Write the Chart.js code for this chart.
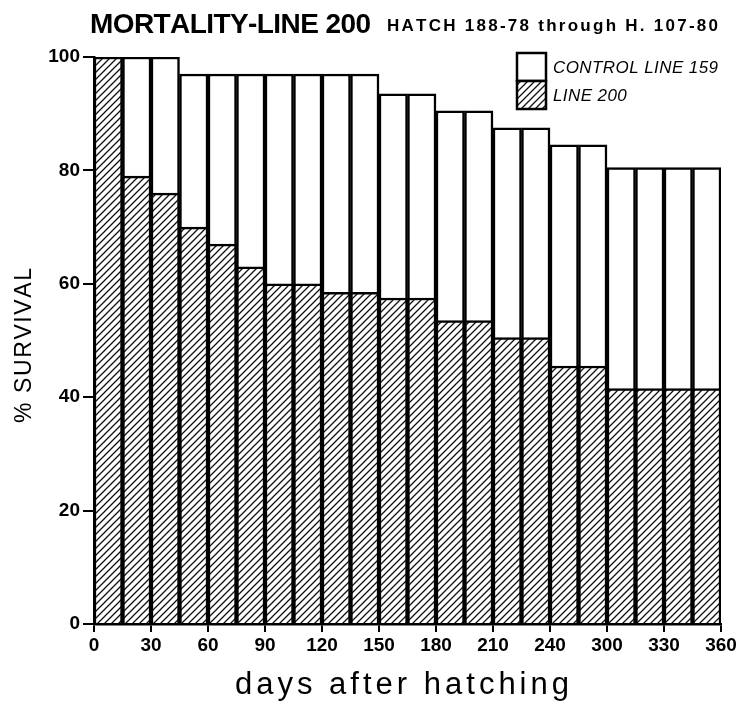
<!DOCTYPE html>
<html>
<head>
<meta charset="utf-8">
<script src="https://cdn.jsdelivr.net/npm/chart.js@4.4.1/dist/chart.umd.min.js"></script>
<style>
  html, body { margin: 0; background: #fff; }
  #wrap { width: 743px; height: 702px; }
</style>
</head>
<body>
<div id="wrap"><canvas id="chart" width="743" height="702"></canvas></div>
<script>
// --- data: 22 half-month intervals ---
const intervals = ['0-15','15-30','30-45','45-60','60-75','75-90','90-105','105-120','120-135','135-150',
                   '150-165','165-180','180-195','195-210','210-225','225-240','240-255','255-270',
                   '270-285','285-300','300-315','315-330'];
const control159 = [100, 100, 100, 97, 97, 97, 97, 97, 97, 97, 93.5, 93.5, 90.5, 90.5, 87.5, 87.5, 84.5, 84.5, 80.5, 80.5, 80.5, 80.5];
const line200    = [100, 79, 76, 70, 67, 63, 60, 60, 58.5, 58.5, 57.5, 57.5, 53.5, 53.5, 50.5, 50.5, 45.5, 45.5, 41.5, 41.5, 41.5, 41.5];
// tick labels as printed on the original axis (270 is missing there)
const dayTicks = ['0','30','60','90','120','150','180','210','240','300','330','360'];

const titleText = 'MORTALITY-LINE 200';
const subtitleText = 'HATCH 188-78 through H. 107-80';
const xTitle = 'days after hatching';
const yTitle = '% SURVIVAL';

const FONT = '"Liberation Sans", Arial, sans-serif';

// --- hatch fill "////" ---
function makeHatch(ctx) {
    const s = 7;
    const c = document.createElement('canvas');
    c.width = s; c.height = s;
    const g = c.getContext('2d');
    g.fillStyle = '#fff';
    g.fillRect(0, 0, s, s);
    g.strokeStyle = '#111';
    g.lineWidth = 1.3;
    g.beginPath();
    g.moveTo(-1, s + 1); g.lineTo(s + 1, -1);
    g.moveTo(-1, 1); g.lineTo(1, -1);
    g.moveTo(s - 1, s + 1); g.lineTo(s + 1, s - 1);
    g.stroke();
    return ctx.createPattern(c, 'repeat');
}

// stretch a string over a given width by spacing its letters (lettering-stencil look)
function spacedText(c, text, x, y, width, align) {
    const chars = [...text];
    const ws = chars.map(ch => c.measureText(ch).width);
    const raw = ws.reduce((a, b) => a + b, 0);
    const gap = chars.length > 1 ? (width - raw) / (chars.length - 1) : 0;
    let px = align === 'center' ? x - width / 2 : x;
    c.textAlign = 'left';
    chars.forEach((ch, i) => {
        c.fillText(ch, px, y);
        px += ws[i] + gap;
    });
}

const canvas = document.getElementById('chart');
const ctx = canvas.getContext('2d');
const hatch = makeHatch(ctx);

// title, axis titles and legend drawn by hand
const decorations = {
    id: 'decorations',
    afterDraw(chart) {
        const c = chart.ctx;
        const area = chart.chartArea;
        c.save();
        c.fillStyle = '#000';
        c.textBaseline = 'alphabetic';

        c.font = 'bold 28px ' + FONT;
        spacedText(c, titleText, 90, 33, 281, 'left');
        c.font = 'bold 17px ' + FONT;
        spacedText(c, subtitleText, 387, 31, 331, 'left');

        // axis titles
        c.font = '31px ' + FONT;
        spacedText(c, xTitle, 402, 694, 334, 'center');
        c.save();
        c.translate(31, (area.top + area.bottom) / 2 + 5);
        c.rotate(-Math.PI / 2);
        c.font = '23px ' + FONT;
        spacedText(c, yTitle, 0, 0, 155, 'center');
        c.restore();

        // legend, boxes stacked
        const bx = 517, by = 53, bw = 29, bh = 28;
        chart.data.datasets.forEach((ds, i) => {
            const y = by + i * bh;
            c.fillStyle = ds.backgroundColor;
            c.fillRect(bx, y, bw, bh);
            c.lineWidth = 2.5;
            c.strokeStyle = '#000';
            c.strokeRect(bx, y, bw, bh);
            c.fillStyle = '#000';
            c.font = 'italic 17px ' + FONT;
            c.textBaseline = 'middle';
            const w = c.measureText(ds.label).width;
            spacedText(c, ds.label, bx + bw + 7, y + bh / 2 + 1, w * 1.04, 'left');
        });
        c.restore();
    }
};

new Chart(ctx, {
    type: 'bar',
    data: {
        labels: intervals,
        datasets: [
            {
                label: 'CONTROL LINE 159',
                data: control159,
                xAxisID: 'x',
                backgroundColor: '#fff',
                borderColor: '#000',
                borderWidth: 2.5,
                grouped: false,
                barPercentage: 1,
                categoryPercentage: 1,
                order: 2
            },
            {
                label: 'LINE 200',
                data: line200,
                xAxisID: 'x',
                backgroundColor: hatch,
                borderColor: '#000',
                borderWidth: 2.5,
                grouped: false,
                barPercentage: 1,
                categoryPercentage: 1,
                order: 1
            }
        ]
    },
    options: {
        responsive: false,
        animation: false,
        layout: { padding: { top: 57, left: 0, right: 22, bottom: 0 } },
        plugins: {
            legend: { display: false },
            tooltip: { enabled: false }
        },
        scales: {
            x: { type: 'category', display: false },
            days: {
                type: 'linear',
                axis: 'x',
                position: 'bottom',
                offset: false,
                min: 0,
                max: 22,
                afterFit: (s) => { s.height = 78; },
                ticks: {
                    stepSize: 2,
                    color: '#000',
                    font: { family: FONT, size: 19, weight: 'bold' },
                    padding: 2,
                    callback: (v) => dayTicks[v / 2]
                },
                grid: { offset: false, drawOnChartArea: false, tickLength: 8, color: '#000', lineWidth: 2 },
                border: { color: '#000', width: 2.5 }
            },
            y: {
                min: 0,
                max: 100,
                afterFit: (s) => { s.width = 94; },
                ticks: {
                    stepSize: 20,
                    color: '#000',
                    font: { family: FONT, size: 19, weight: 'bold' },
                    padding: 3
                },
                grid: { drawOnChartArea: false, tickLength: 11, color: '#000', lineWidth: 2 },
                border: { color: '#000', width: 2.5 }
            }
        }
    },
    plugins: [decorations]
});
</script>
</body>
</html>
